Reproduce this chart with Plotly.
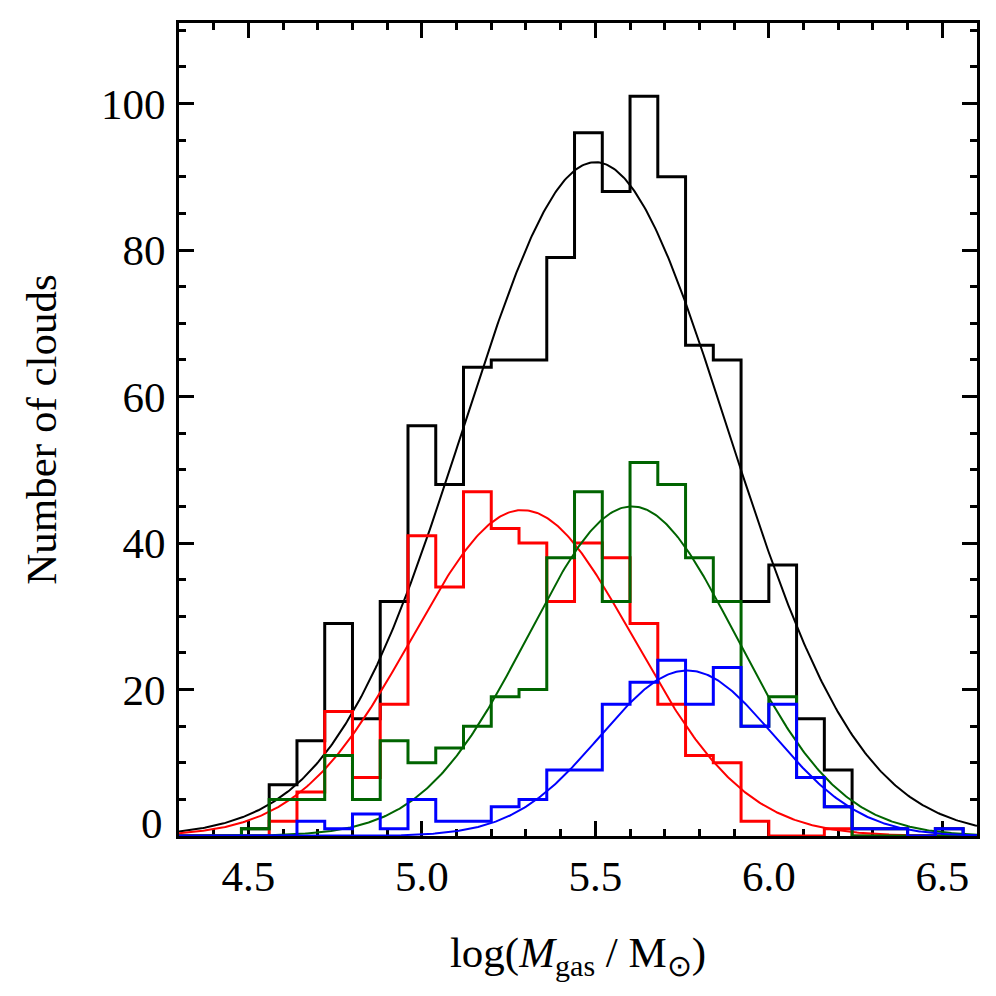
import numpy as np
import plotly.graph_objects as go

# Bordas esquerdas dos bins do histograma (largura de 0.08 dex)
bin_left = [4.48, 4.56, 4.64, 4.72, 4.80, 4.88, 4.96, 5.04, 5.12, 5.20,
            5.28, 5.36, 5.44, 5.52, 5.60, 5.68, 5.76, 5.84, 5.92, 6.00,
            6.08, 6.16, 6.24, 6.32, 6.40, 6.48, 6.56]
bin_width = 0.08

# Contagens
n_total = [1, 7, 13, 29, 16, 32, 56, 48, 64, 65, 65, 79, 96, 88, 101, 90, 67,
           65, 32, 37, 16, 9, 1, 1, 0, 1, 0]
n_red = [0, 2, 6, 17, 8, 18, 41, 34, 47, 42, 40, 32, 40, 38, 29, 18, 11, 10,
         2, 0, 0, 1, 0, 0, 0, 0, 0]
n_green = [1, 5, 5, 11, 5, 13, 10, 12, 15, 19, 20, 38, 47, 32, 51, 48, 38, 32,
           15, 19, 8, 4, 0, 0, 0, 0, 0]
n_blue = [0, 0, 2, 1, 3, 1, 5, 2, 2, 4, 5, 9, 9, 18, 21, 24, 18, 23, 15, 18,
          8, 4, 1, 1, 0, 1, 0]

# Ajustes gaussianos (amplitude, média, sigma)
fit_total = (92.0, 5.50, 0.38)
fit_red = (44.5, 5.29, 0.32)
fit_green = (45.0, 5.605, 0.30)
fit_blue = (22.6, 5.765, 0.25)

x_range = [4.3, 6.6]
y_range = [0, 111]
x_ticks = [4.5, 5.0, 5.5, 6.0, 6.5]
y_ticks = [20, 40, 60, 80, 100]

FONT = "Liberation Serif, Times New Roman, serif"
GREEN = "rgb(0,100,0)"

fig = go.Figure()

x_fit = np.linspace(x_range[0], x_range[1], 500)
x_step = [x_range[0]] + bin_left + [bin_left[-1] + bin_width]

series = [
    (n_total, fit_total, "black"),
    (n_red, fit_red, "red"),
    (n_green, fit_green, GREEN),
    (n_blue, fit_blue, "blue"),
]

for counts, (amp, mu, sig), color in series:
    # Histograma em degraus
    fig.add_trace(go.Scatter(
        x=x_step, y=[0] + counts + [0], mode="lines",
        line=dict(color=color, width=3, shape="hv"),
        showlegend=False, hoverinfo="skip"
    ))
    # Curva do ajuste gaussiano
    fig.add_trace(go.Scatter(
        x=x_fit, y=amp * np.exp(-(x_fit - mu) ** 2 / (2 * sig ** 2)),
        mode="lines", line=dict(color=color, width=2),
        showlegend=False, hoverinfo="skip"
    ))

axis_common = dict(
    showline=True, linecolor="black", linewidth=3, mirror="ticks",
    ticks="inside", ticklen=15, tickwidth=3, tickcolor="black",
    showgrid=False, zeroline=False, layer="below traces",
    tickfont=dict(family=FONT, size=43, color="black"),
)

# A página tem 8 px de margem no body, por isso a margem esquerda/superior é menor
fig.update_layout(
    width=996, height=996,
    margin=dict(l=171, r=27, t=12, b=168),
    paper_bgcolor="white", plot_bgcolor="white",
    xaxis=dict(
        range=x_range, tickvals=x_ticks, tickformat=".1f",
        minor=dict(dtick=0.1, tick0=4.3, ticks="inside", ticklen=7,
                   tickwidth=3, tickcolor="black"),
        ticklabelstandoff=0,
        title=dict(text="log(<i>M</i><sub>gas</sub> / M<sub>⊙</sub>)",
                   font=dict(family=FONT, size=43, color="black"), standoff=39),
        **axis_common
    ),
    yaxis=dict(
        range=y_range, tickvals=y_ticks,
        minor=dict(dtick=5, tick0=0, ticks="inside", ticklen=7,
                   tickwidth=3, tickcolor="black"),
        ticklabelstandoff=2,
        title=dict(text="Number of clouds",
                   font=dict(family=FONT, size=43, color="black"), standoff=31),
        **axis_common
    ),
)

# Rótulo "0" do eixo y, deslocado para cima como no original
fig.add_annotation(
    x=0, xref="paper", y=0, yref="y", text="0", showarrow=False,
    xanchor="right", yanchor="middle", xshift=-14, yshift=13,
    font=dict(family=FONT, size=43, color="black")
)

fig.write_html("out.html")
